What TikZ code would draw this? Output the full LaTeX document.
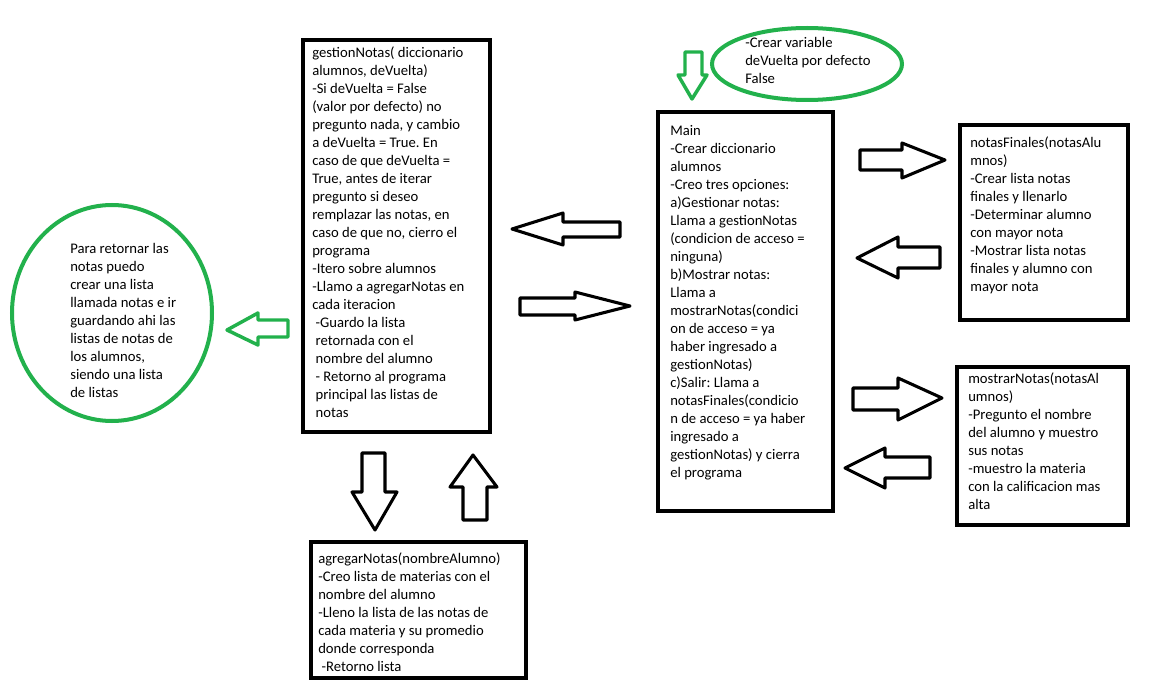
\documentclass[tikz,border=0pt]{standalone}
\usepackage{fontspec}
\setmainfont{Carlito}
\frenchspacing
\definecolor{pgreen}{HTML}{22B14C}
\tikzset{
  box/.style={draw=black, line width=3pt},
  txt/.style={anchor=base west, inner sep=0pt, align=left, font=\fontsize{11}{13.5}\selectfont\frenchspacing},
  barrow/.style={draw=black, line width=2.3pt, line join=round, fill=white},
  garrow/.style={draw=pgreen, line width=2.6pt, line join=round},
  gell/.style={draw=pgreen, line width=3pt},
}
\begin{document}
\begin{tikzpicture}[x=0.75pt, y=-0.75pt]
\useasboundingbox (0,0) rectangle (1152,688);
\fill[white] (0,0) rectangle (1152,688);

% boxes
\draw[box] (303,40) rectangle (490,432);
\draw[box] (658,112) rectangle (833,511);
\draw[box] (960,125) rectangle (1128,320);
\draw[box] (957,367) rectangle (1128,525);
\draw[box] (311,542) rectangle (526,678);

% green ellipses
\draw[gell] (112,313) ellipse [x radius=100, y radius=108];
\draw[gell] (807,64) ellipse [x radius=95, y radius=36];

% texts (anchor = baseline of last line)
\node[txt] (gestion) at (312,417) {gestionNotas( diccionario\\alumnos, deVuelta)\\-Si deVuelta = False\\(valor por defecto) no\\pregunto nada, y cambio\\a deVuelta = True. En\\caso de que deVuelta =\\True, antes de iterar\\pregunto si deseo\\remplazar las notas, en\\caso de que no, cierro el\\programa\\-Itero sobre alumnos\\-Llamo a agregarNotas en\\cada iteracion\\\hspace{2.5pt}-Guardo la lista\\\hspace{2.5pt}retornada con el\\\hspace{2.5pt}nombre del alumno\\\hspace{2.5pt}- Retorno al programa\\\hspace{2.5pt}principal las listas de\\\hspace{2.5pt}notas};

\node[txt] (main) at (670,477) {Main\\-Crear diccionario\\alumnos\\-Creo tres opciones:\\a)Gestionar notas:\\Llama a gestionNotas\\(condicion de acceso =\\ninguna)\\b)Mostrar notas:\\Llama a\\mostrarNotas(condici\\on de acceso = ya\\haber ingresado a\\gestionNotas)\\c)Salir: Llama a\\notasFinales(condicio\\n de acceso = ya haber\\ingresado a\\gestionNotas) y cierra\\el programa};

\node[txt] (finales) at (970,291) {notasFinales(notasAlu\\mnos)\\-Crear lista notas\\finales y llenarlo\\-Determinar alumno\\con mayor nota\\-Mostrar lista notas\\finales y alumno con\\mayor nota};

\node[txt] (mostrar) at (968,509) {mostrarNotas(notasAl\\umnos)\\-Pregunto el nombre\\del alumno y muestro\\sus notas\\-muestro la materia\\con la calificacion mas\\alta};

\node[txt] (agregar) at (318,671) {agregarNotas(nombreAlumno)\\-Creo lista de materias con el\\nombre del alumno\\-Lleno la lista de las notas de\\cada materia y su promedio\\donde corresponda\\\hspace{2.5pt}-Retorno lista};

\node[txt] (nota) at (70,397) {Para retornar las\\notas puedo\\crear una lista\\llamada notas e ir\\guardando ahi las\\listas de notas de\\los alumnos,\\siendo una lista\\de listas};

\node[txt] (vuelta) at (745,84) {-Crear variable\\deVuelta por defecto\\False};

% black block arrows
\draw[barrow] (512,229) -- (563,213) -- (563,222) -- (620,222) -- (620,237) -- (563,237) -- (563,245) -- cycle;
\draw[barrow] (520,298) -- (575,298) -- (575,292) -- (630,306) -- (575,320) -- (575,315) -- (520,315) -- cycle;
\draw[barrow] (860,150) -- (902,150) -- (902,143) -- (945,160) -- (902,178) -- (902,170) -- (860,170) -- cycle;
\draw[barrow] (857,258) -- (898,237) -- (898,247) -- (940,247) -- (940,268) -- (898,268) -- (898,278) -- cycle;
\draw[barrow] (853,388) -- (898,388) -- (898,378) -- (942,398) -- (898,420) -- (898,410) -- (853,410) -- cycle;
\draw[barrow] (845,468) -- (885,448) -- (885,457) -- (930,457) -- (930,478) -- (885,478) -- (885,488) -- cycle;
\draw[barrow] (362,453) -- (385,453) -- (385,492) -- (397,492) -- (375,530) -- (352,492) -- (362,492) -- cycle;
\draw[barrow] (473,455) -- (497,487) -- (487,487) -- (487,520) -- (463,520) -- (463,487) -- (450,487) -- cycle;

% green block arrows
\draw[garrow] (685,52) -- (702,52) -- (702,75) -- (707,75) -- (692,99) -- (678,75) -- (685,75) -- cycle;
\draw[garrow] (227,330) -- (258,313) -- (258,320) -- (288,320) -- (288,337) -- (258,337) -- (258,345) -- cycle;
\end{tikzpicture}
\end{document}
